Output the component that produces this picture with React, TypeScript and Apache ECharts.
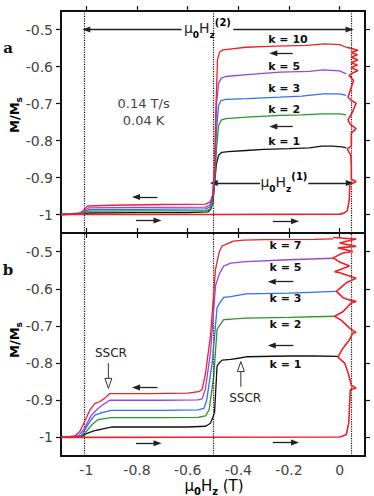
import React, { useEffect, useRef } from "react";
import * as echarts from "echarts";

type P = [number, number];

// ---------- axis ticks ----------
const xTicks = [-1, -0.8, -0.6, -0.4, -0.2, 0];
const yTicks = [-1, -0.9, -0.8, -0.7, -0.6, -0.5];

// ---------- panel a : descending branches (field swept back from +) ----------
const aK1: P[] = [[0.026,-0.82],[0.01,-0.817],[-0.03,-0.815],[-0.07,-0.815],[-0.12,-0.82],[-0.2,-0.822],[-0.3,-0.824],[-0.37,-0.827],[-0.44,-0.83],[-0.465,-0.832],[-0.478,-0.84],[-0.487,-0.865],[-0.494,-0.92],[-0.5,-0.965],[-0.508,-0.985],[-0.52,-0.993],[-0.6,-0.995],[-0.8,-0.995],[-0.99,-0.996],[-1.01,-0.999],[-1.1,-1]];
const aK2: P[] = [[0.026,-0.731],[0.0,-0.728],[-0.065,-0.728],[-0.15,-0.731],[-0.235,-0.732],[-0.366,-0.737],[-0.45,-0.741],[-0.468,-0.745],[-0.478,-0.76],[-0.486,-0.82],[-0.494,-0.92],[-0.502,-0.97],[-0.512,-0.986],[-0.53,-0.99],[-0.8,-0.99],[-0.99,-0.991],[-1.01,-0.997],[-1.1,-1]];
const aK3: P[] = [[0.026,-0.678],[0.0,-0.674],[-0.065,-0.674],[-0.15,-0.68],[-0.235,-0.683],[-0.366,-0.687],[-0.45,-0.689],[-0.468,-0.692],[-0.478,-0.705],[-0.486,-0.77],[-0.494,-0.9],[-0.502,-0.96],[-0.512,-0.98],[-0.53,-0.985],[-0.8,-0.986],[-0.99,-0.987],[-1.01,-0.995],[-1.1,-1]];
const aK5: P[] = [[0.026,-0.62],[0.0,-0.612],[-0.065,-0.609],[-0.12,-0.613],[-0.235,-0.615],[-0.366,-0.622],[-0.45,-0.627],[-0.468,-0.632],[-0.478,-0.645],[-0.486,-0.7],[-0.494,-0.87],[-0.502,-0.95],[-0.512,-0.974],[-0.53,-0.98],[-0.8,-0.981],[-0.99,-0.982],[-1.01,-0.992],[-1.03,-0.999],[-1.1,-1]];
const aK10: P[] = [[0.026,-0.548],[0.0,-0.541],[-0.06,-0.539],[-0.13,-0.543],[-0.25,-0.545],[-0.37,-0.548],[-0.46,-0.555],[-0.474,-0.561],[-0.482,-0.58],[-0.488,-0.7],[-0.494,-0.88],[-0.5,-0.945],[-0.51,-0.965],[-0.53,-0.972],[-0.7,-0.973],[-0.9,-0.975],[-0.995,-0.977],[-1.012,-0.99],[-1.03,-0.998],[-1.1,-1]];
// ascending sweep (red) with minor loops at the right edge
const aUp: P[] = [[-1.1,-1],[-0.5,-1],[0.0,-0.999],[0.015,-0.997],[0.03,-0.99],[0.038,-0.96],[0.04,-0.92],[0.065,-0.911],[0.046,-0.905],[0.046,-0.87],[0.044,-0.84],[0.036,-0.83],[0.03,-0.822],[0.046,-0.815],[0.046,-0.78],[0.065,-0.768],[0.04,-0.755],[0.033,-0.744],[0.05,-0.724],[0.065,-0.699],[0.046,-0.692],[0.033,-0.683],[0.046,-0.656],[0.055,-0.638],[0.037,-0.624],[0.05,-0.618],[0.072,-0.611],[0.045,-0.603],[0.07,-0.596],[0.045,-0.59],[0.072,-0.582],[0.045,-0.575],[0.07,-0.568],[0.045,-0.562],[0.072,-0.556],[0.04,-0.55],[0.026,-0.548]];

// ---------- panel b ----------
const bK1: P[] = [[-0.007,-0.782],[-0.1,-0.781],[-0.2,-0.781],[-0.37,-0.783],[-0.4,-0.787],[-0.43,-0.79],[-0.464,-0.792],[-0.477,-0.801],[-0.484,-0.808],[-0.494,-0.934],[-0.51,-0.962],[-0.529,-0.97],[-0.6,-0.972],[-0.902,-0.972],[-0.94,-0.978],[-0.967,-0.982],[-1.0,-0.99],[-1.02,-0.998],[-1.1,-1]];
const bK2: P[] = [[-0.02,-0.674],[-0.2,-0.677],[-0.37,-0.679],[-0.43,-0.682],[-0.458,-0.683],[-0.475,-0.7],[-0.484,-0.709],[-0.497,-0.835],[-0.515,-0.925],[-0.529,-0.942],[-0.56,-0.946],[-0.7,-0.947],[-0.902,-0.947],[-0.954,-0.952],[-0.98,-0.967],[-1.007,-0.99],[-1.03,-0.999],[-1.1,-1]];
const bK3: P[] = [[-0.013,-0.607],[-0.2,-0.612],[-0.37,-0.614],[-0.43,-0.621],[-0.458,-0.623],[-0.475,-0.64],[-0.484,-0.651],[-0.503,-0.799],[-0.525,-0.9],[-0.536,-0.922],[-0.56,-0.926],[-0.7,-0.927],[-0.902,-0.927],[-0.941,-0.934],[-0.967,-0.94],[-0.993,-0.965],[-1.02,-0.995],[-1.1,-1]];
const bK5: P[] = [[-0.026,-0.518],[-0.2,-0.522],[-0.37,-0.527],[-0.43,-0.531],[-0.458,-0.539],[-0.475,-0.56],[-0.49,-0.592],[-0.51,-0.772],[-0.53,-0.87],[-0.543,-0.896],[-0.56,-0.899],[-0.7,-0.9],[-0.908,-0.9],[-0.928,-0.909],[-0.954,-0.922],[-0.98,-0.94],[-1.007,-0.975],[-1.03,-0.995],[-1.1,-1]];
const bK7: P[] = [[-0.026,-0.466],[-0.1,-0.467],[-0.3,-0.468],[-0.38,-0.469],[-0.42,-0.472],[-0.44,-0.478],[-0.464,-0.485],[-0.475,-0.5],[-0.49,-0.547],[-0.51,-0.727],[-0.53,-0.83],[-0.543,-0.871],[-0.556,-0.877],[-0.6,-0.881],[-0.75,-0.882],[-0.908,-0.882],[-0.928,-0.895],[-0.948,-0.904],[-0.967,-0.909],[-0.985,-0.925],[-1.005,-0.955],[-1.026,-0.984],[-1.046,-0.997],[-1.1,-1]];
const bUp: P[] = [[-1.1,-1],[0.0,-0.999],[0.026,-0.993],[0.036,-0.96],[0.04,-0.9],[0.042,-0.872],[0.065,-0.867],[0.046,-0.86],[0.035,-0.83],[0.02,-0.8],[-0.007,-0.784],[0.013,-0.76],[0.039,-0.737],[0.052,-0.719],[0.065,-0.718],[0.039,-0.706],[0.007,-0.685],[-0.02,-0.674],[0.013,-0.662],[0.046,-0.638],[0.065,-0.634],[0.039,-0.63],[0.013,-0.624],[-0.013,-0.607],[0.026,-0.584],[0.065,-0.572],[0.0,-0.557],[-0.02,-0.554],[0.039,-0.539],[0.0,-0.528],[-0.026,-0.517],[0.013,-0.504],[0.052,-0.5],[-0.007,-0.49],[0.065,-0.486],[0.0,-0.477],[0.065,-0.466],[-0.026,-0.462]];

const colors = ["#111111", "#2a962a", "#2f6ff0", "#9b44db", "#ee2028", "#ee2028"];
const panelA = [aK1, aK2, aK3, aK5, aK10, aUp];
const panelB = [bK1, bK2, bK3, bK5, bK7, bUp];

const kNamesA = ["k = 1", "k = 2", "k = 3", "k = 5", "k = 10"];
const kYA = [-0.803, -0.716, -0.659, -0.6, -0.527];
const kNamesB = ["k = 1", "k = 2", "k = 3", "k = 5", "k = 7"];
const kYB = [-0.803, -0.697, -0.627, -0.543, -0.484];

const dottedX = [-1.009, -0.5, 0.046];

// annotation arrows [from, to]
const arrowsA: [P, P][] = [
  [[-0.624, -0.5], [-1.0, -0.5]],
  [[-0.42, -0.5], [0.039, -0.5]],
  [[-0.314, -0.915], [-0.497, -0.915]],
  [[-0.124, -0.915], [0.04, -0.915]],
  [[-0.185, -0.564], [-0.262, -0.564]],
  [[-0.185, -0.762], [-0.262, -0.762]],
  [[-0.719, -0.953], [-0.804, -0.953]],
  [[-0.804, -1.016], [-0.719, -1.016]],
  [[-0.264, -1.018], [-0.176, -1.018]],
];
const arrowsB: [P, P][] = [
  [[-0.183, -0.581], [-0.268, -0.581]],
  [[-0.183, -0.753], [-0.268, -0.753]],
  [[-0.719, -0.866], [-0.804, -0.866]],
  [[-0.804, -1.016], [-0.719, -1.016]],
  [[-0.264, -1.014], [-0.176, -1.014]],
];

const FONT = "DejaVu Sans";

function markLineFor(arrows: [P, P][]) {
  const data: any[] = [];
  dottedX.forEach((v) => {
    const ls = { type: "dotted", color: "#111", width: 1.2 };
    data.push([
      { coord: [v, -1.05], symbol: "none", lineStyle: ls },
      { coord: [v, -0.45], symbol: "none", lineStyle: ls },
    ]);
  });
  arrows.forEach(([f, t]) => {
    const ls = { type: "solid", color: "#222", width: 1.3 };
    data.push([
      { coord: f, symbol: "none", lineStyle: ls },
      { coord: t, symbol: "triangle", symbolSize: [6, 8], lineStyle: ls, itemStyle: { color: "#222" } },
    ]);
  });
  return {
    silent: true,
    animation: false,
    symbol: ["none", "none"],
    label: { show: false },
    emphasis: { disabled: true },
    data,
  };
}

const fmt = (v: number) => String(+(+v).toFixed(1));

function xAx(grid: number, position: string, labels: boolean, ticks: boolean) {
  return {
    type: "value",
    gridIndex: grid,
    position,
    min: -1.1,
    max: 0.1,
    axisLine: { show: true, onZero: false, lineStyle: { color: "#111", width: 2 } },
    axisTick: { show: ticks, inside: false, length: 5, customValues: xTicks, lineStyle: { color: "#111", width: 1.2 } },
    axisLabel: labels
      ? { show: true, customValues: xTicks, formatter: fmt, fontSize: 14, fontFamily: FONT, color: "#444", margin: 7 }
      : { show: false },
    splitLine: { show: false },
  };
}
function yAx(grid: number, position: string, labels: boolean) {
  return {
    type: "value",
    gridIndex: grid,
    position,
    min: -1.05,
    max: -0.45,
    axisLine: { show: true, onZero: false, lineStyle: { color: "#111", width: 2 } },
    axisTick: { show: true, inside: false, length: 5, customValues: yTicks, lineStyle: { color: "#111", width: 1.2 } },
    axisLabel: labels
      ? { show: true, customValues: yTicks, formatter: fmt, fontSize: 14, fontFamily: FONT, color: "#444", margin: 8 }
      : { show: false },
    splitLine: { show: false },
  };
}

export default function App() {
  const ref = useRef<HTMLDivElement>(null);
  useEffect(() => {
    if (!ref.current) return;
    const chart = echarts.init(ref.current, undefined, { renderer: "svg" });
    const series: any[] = [];
    panelA.forEach((d, i) => {
      series.push({
        type: "line", xAxisIndex: 0, yAxisIndex: 0, data: d, showSymbol: false, symbol: "none",
        lineStyle: { color: colors[i], width: i === 5 ? 1.6 : 1.3 }, itemStyle: { color: colors[i] },
        silent: true, z: 3 + i,
        markLine: i === 0 ? markLineFor(arrowsA) : undefined,
      });
    });
    panelB.forEach((d, i) => {
      series.push({
        type: "line", xAxisIndex: 2, yAxisIndex: 2, data: d, showSymbol: false, symbol: "none",
        lineStyle: { color: colors[i], width: i === 5 ? 1.6 : 1.3 }, itemStyle: { color: colors[i] },
        silent: true, z: 3 + i,
        markLine: i === 0 ? markLineFor(arrowsB) : undefined,
      });
    });
    chart.setOption({
      animation: false,
      backgroundColor: "#fff",
      grid: [
        { left: 61, top: 11, width: 304, height: 222 },
        { left: 61, top: 233, width: 304, height: 223 },
      ],
      xAxis: [
        xAx(0, "bottom", false, true),
        xAx(0, "top", false, true),
        xAx(1, "bottom", true, false),
        xAx(1, "top", false, true),
      ],
      yAxis: [yAx(0, "left", true), yAx(0, "right", false), yAx(1, "left", true), yAx(1, "right", false)],
      series,
    });

    const toPx = (si: number, x: number, y: number) =>
      chart.convertToPixel({ seriesIndex: si } as any, [x, y]) as number[];
    const g: any[] = [];
    const text = (x: number, y: number, t: string, style: any, extra: any = {}) =>
      g.push({ type: "text", x, y, z: 100, style: { text: t, align: "center", verticalAlign: "middle", ...style }, ...extra });

    // k labels
    kNamesA.forEach((k, i) => {
      const [px, py] = toPx(0, -0.282, kYA[i]);
      text(px, py, k, { align: "left", fontSize: 11, fontWeight: "bold", fontFamily: FONT, fill: "#111" });
    });
    kNamesB.forEach((k, i) => {
      const [px, py] = toPx(6, -0.277, kYB[i]);
      text(px, py, k, { align: "left", fontSize: 11, fontWeight: "bold", fontFamily: FONT, fill: "#111" });
    });
    // rate / temperature
    {
      const [p1x, p1y] = toPx(0, -0.774, -0.7);
      text(p1x, p1y, "0.14 T/s", { fontSize: 13, fontFamily: FONT, fill: "#444" });
      const [p2x, p2y] = toPx(0, -0.774, -0.746);
      text(p2x, p2y, "0.04 K", { fontSize: 13, fontFamily: FONT, fill: "#444" });
    }
    const muRich = {
      m: { fontSize: 14, fontFamily: FONT, fill: "#222", color: "#222", lineHeight: 22, verticalAlign: "middle" },
      s: { fontSize: 9, fontFamily: FONT, fontWeight: "bold", color: "#222", lineHeight: 22, verticalAlign: "bottom" },
      u: { fontSize: 10, fontFamily: FONT, fontWeight: "bold", color: "#222", lineHeight: 22, verticalAlign: "top" },
    };
    {
      const [px, py] = toPx(0, -0.522, -0.497);
      text(px, py, "{m|μ}{s|0}{m|H}{s|z}{u|(2)}", { rich: muRich });
      const [qx, qy] = toPx(0, -0.22, -0.913);
      text(qx, qy, "{m|μ}{s|0}{m|H}{s|z}{u|(1)}", { rich: muRich });
    }
    // SSCR
    const sscrStyle = { fontSize: 12, fontFamily: FONT, fill: "#222" };
    {
      const [ax, ay] = toPx(6, -0.903, -0.773);
      text(ax, ay, "SSCR", sscrStyle);
      const [bx, by] = toPx(6, -0.373, -0.894);
      text(bx, by, "SSCR", sscrStyle);
    }
    const openArrow = (tail: P, tip: P) => {
      const a = toPx(6, tail[0], tail[1]);
      const b = toPx(6, tip[0], tip[1]);
      const dir = Math.sign(b[1] - a[1]);
      const baseY = b[1] - dir * 10;
      g.push({ type: "line", z: 100, shape: { x1: a[0], y1: a[1], x2: b[0], y2: baseY }, style: { stroke: "#333", lineWidth: 1 } });
      g.push({
        type: "polygon", z: 101,
        shape: { points: [[b[0] - 3.5, baseY], [b[0] + 3.5, baseY], [b[0], b[1]]] },
        style: { fill: "#fff", stroke: "#333", lineWidth: 1 },
      });
    };
    openArrow([-0.913, -0.8], [-0.913, -0.868]);
    openArrow([-0.39, -0.864], [-0.39, -0.796]);

    // panel letters and axis names
    text(8, 48, "a", { fontSize: 15, fontWeight: "bold", fontFamily: "DejaVu Serif", fill: "#111" });
    text(8, 270, "b", { fontSize: 15, fontWeight: "bold", fontFamily: "DejaVu Serif", fill: "#111" });
    const mRich = {
      m: { fontSize: 13, fontWeight: "bold", fontFamily: FONT, color: "#111", lineHeight: 18, verticalAlign: "middle" },
      s: { fontSize: 9, fontWeight: "bold", fontFamily: FONT, color: "#111", lineHeight: 18, verticalAlign: "bottom" },
    };
    text(14, 115, "{m|M/M}{s|s}", { rich: mRich }, { rotation: Math.PI / 2 });
    text(14, 340, "{m|M/M}{s|s}", { rich: mRich }, { rotation: Math.PI / 2 });
    text(214, 486, "{m|μ}{s|0}{m|H}{s|z}{m| (T)}", {
      rich: {
        m: { fontSize: 15, fontFamily: FONT, color: "#222", lineHeight: 20, verticalAlign: "middle" },
        s: { fontSize: 10, fontFamily: FONT, fontWeight: "bold", color: "#222", lineHeight: 20, verticalAlign: "bottom" },
      },
    });

    chart.setOption({ graphic: g });
    return () => chart.dispose();
  }, []);
  return (
    <div
      ref={ref}
      style={{ position: "fixed", left: 0, top: 0, width: 374, height: 496, background: "#fff" }}
    />
  );
}
